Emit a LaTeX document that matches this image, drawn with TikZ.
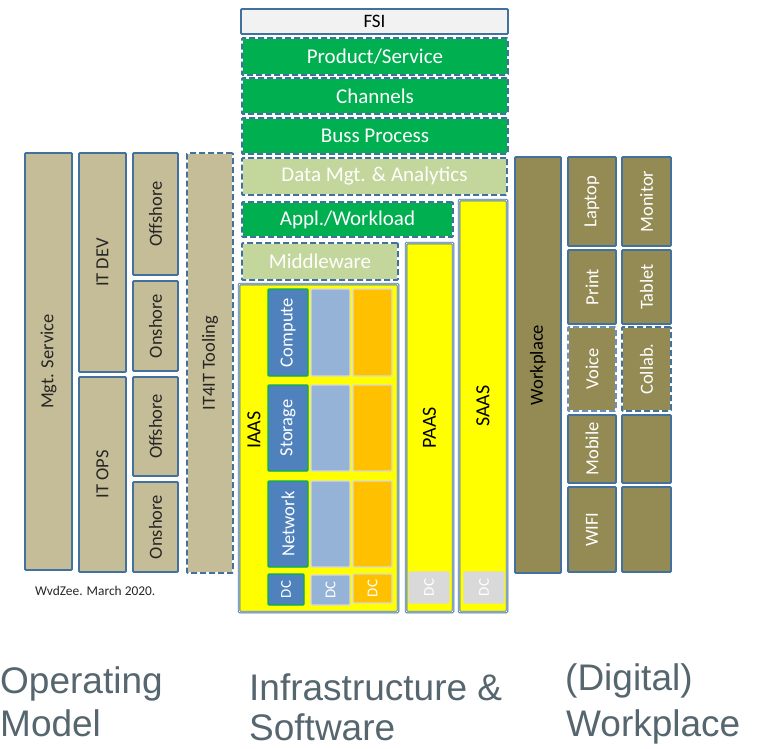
\documentclass[tikz,border=0pt]{standalone}
\usepackage{fontspec}
\setmainfont{Carlito}
\newfontfamily\arialf{Liberation Sans}
\usepackage{graphicx}
\definecolor{bord}{HTML}{41719C}
\definecolor{lbord}{HTML}{6A8FC0}
\definecolor{fsifill}{HTML}{F2F2F2}
\definecolor{grn}{HTML}{00B050}
\definecolor{lgrn}{HTML}{C3D69B}
\definecolor{tan}{HTML}{C4BD97}
\definecolor{olive}{HTML}{948A54}
\definecolor{yel}{HTML}{FFFF00}
\definecolor{cblue}{HTML}{4F81BD}
\definecolor{lblue}{HTML}{95B3D7}
\definecolor{orng}{HTML}{FFC000}
\definecolor{dcgray}{HTML}{D9D9D9}
\definecolor{dtext}{HTML}{262626}
\definecolor{slate}{HTML}{56666F}
\newcommand\mybox[7]{\node[#1, minimum width={(#5-#3)*1pt}, minimum height={(#6-#4)*1pt}] (#2) at (#3,#4) {#7};}
\newcommand\rt[1]{\rotatebox{90}{#1}}
\begin{document}
\begin{tikzpicture}[x=1pt,y=-1pt,
  bx/.style={anchor=north west, inner sep=0pt, outer sep=0pt, rounded corners=1pt, draw=bord, line width=1.8pt},
  dbx/.style={anchor=north west, inner sep=0pt, outer sep=0pt, rounded corners=1pt, draw=white, line width=1.8pt,
     postaction={draw=#1, dash pattern=on 6pt off 3pt}},
  dbx/.default=bord,
  big/.style={font=\fontsize{21}{25}\selectfont, text=white},
  lab/.style={font=\fontsize{18.5}{22}\selectfont},
  ybx/.style={bx, fill=yel, line width=0.8pt, double=white, double distance=0.9pt},
  cell/.style={anchor=north west, inner sep=0pt, outer sep=0pt, draw=#1, line width=1.3pt, rounded corners=1pt},
  dcl/.style={font=\fontsize{15}{18}\selectfont, text=white},
  bottom/.style={anchor=base west, inner sep=0pt, text=slate, font=\arialf\fontsize{37}{44}\selectfont}
]
\useasboundingbox (0,0) rectangle (768,749);
% top stack
\mybox{bx, fill=fsifill, font=\fontsize{19}{22}\selectfont, text=black}{fsi}{241}{9}{508}{34}{FSI}
\mybox{dbx, fill=grn, big}{prod}{242}{38}{508}{75}{Product/Service}
\mybox{dbx, fill=grn, big}{chan}{242}{78}{508}{114}{Channels}
\mybox{dbx, fill=grn, big}{buss}{242}{118}{508}{154}{Buss Process}
\mybox{dbx, fill=lgrn, big}{data}{242}{158}{507}{195}{Data Mgt. \& Analytics}
\mybox{dbx, fill=grn, big}{appl}{242}{202}{453}{237}{Appl./Workload}
\mybox{dbx, fill=lgrn, big}{midd}{242}{243}{398}{280}{Middleware}
% IAAS / PAAS / SAAS
\mybox{ybx}{iaas}{239}{284}{398}{612}{}
\node[lab, font=\fontsize{20}{24}\selectfont] (iaaslbl) at (254,430) {\rt{IAAS}};
\mybox{ybx, font=\fontsize{20}{24}\selectfont}{paas}{406}{243}{453}{612}{\rt{PAAS}}
\mybox{ybx, font=\fontsize{20}{24}\selectfont}{saas}{459}{200}{507}{612}{\rt{SAAS}}
% IAAS columns
\mybox{cell=grn, fill=cblue, lab, text=white}{comp}{268}{289}{308}{376}{\rt{Compute}}
\mybox{cell=dcgray, fill=lblue}{comp2}{311}{289}{350}{376}{}
\mybox{cell=dcgray, fill=orng}{comp3}{353}{289}{392}{376}{}
\mybox{cell=grn, fill=cblue, lab, text=white}{stor}{268}{385}{308}{471}{\rt{Storage}}
\mybox{cell=dcgray, fill=lblue}{stor2}{311}{385}{350}{471}{}
\mybox{cell=dcgray, fill=orng}{stor3}{353}{385}{392}{471}{}
\mybox{cell=grn, fill=cblue, lab, text=white}{netw}{268}{481}{308}{567}{\rt{Network}}
\mybox{cell=dcgray, fill=lblue}{netw2}{311}{481}{350}{567}{}
\mybox{cell=dcgray, fill=orng}{netw3}{353}{481}{392}{567}{}
\mybox{cell=grn, fill=cblue, dcl}{dc1}{268}{574}{304}{605}{\rt{DC}}
\mybox{cell=dcgray, fill=lblue, dcl}{dc2}{311}{575}{350}{605}{\rt{DC}}
\mybox{cell=dcgray, fill=orng, dcl}{dc3}{353}{574}{392}{603}{\rt{DC}}
\mybox{cell=dcgray, fill=dcgray, dcl}{dc4}{409}{572}{449}{603}{\rt{DC}}
\mybox{cell=dcgray, fill=dcgray, dcl}{dc5}{464}{572}{504}{603}{\rt{DC}}
% left: operating model
\mybox{bx, fill=tan, lab, text=dtext}{mgt}{25}{153}{72}{570}{\rt{Mgt. Service}}
\mybox{bx, fill=tan, lab, text=dtext}{itdev}{79}{153}{126}{372}{\rt{IT DEV}}
\mybox{bx, fill=tan, lab, text=dtext}{itops}{79}{377}{126}{572}{\rt{IT OPS}}
\mybox{bx, fill=tan, lab, text=dtext}{off1}{133}{153}{178}{275}{\rt{Offshore}}
\mybox{bx, fill=tan, lab, text=dtext}{on1}{133}{281}{178}{371}{\rt{Onshore}}
\mybox{bx, fill=tan, lab, text=dtext}{off2}{133}{377}{178}{476}{\rt{Offshore}}
\mybox{bx, fill=tan, lab, text=dtext}{on2}{133}{482}{178}{572}{\rt{Onshore}}
\mybox{dbx, fill=tan, lab, text=dtext}{it4it}{187}{153}{233}{573}{\rt{IT4IT Tooling}}
\node[anchor=west, inner sep=0pt, font=\fontsize{13.4}{16}\selectfont, text=dtext] (sig) at (35,591) {WvdZee. March 2020.};
% right: workplace
\mybox{bx, fill=olive, lab, text=black}{work}{515}{157}{561}{573}{\rt{Workplace}}
\mybox{bx, fill=olive, lab, text=white}{lapt}{568}{157}{616}{246}{\rt{Laptop}}
\mybox{bx, fill=olive, lab, text=white}{print}{568}{250}{616}{324}{\rt{Print}}
\mybox{dbx=lbord, fill=olive, lab, text=white}{voice}{568}{327}{616}{411}{\rt{Voice}}
\mybox{bx, fill=olive, lab, text=white}{mobile}{568}{415}{616}{483}{\rt{Mobile}}
\mybox{bx, fill=olive, lab, text=white}{wifi}{568}{487}{616}{572}{\rt{WIFI}}
\mybox{bx, fill=olive, lab, text=white}{monit}{622}{157}{671}{246}{\rt{Monitor}}
\mybox{bx, fill=olive, lab, text=white}{tabl}{622}{250}{671}{324}{\rt{Tablet}}
\mybox{dbx, fill=olive, lab, text=white}{collab}{622}{327}{671}{411}{\rt{Collab.}}
\mybox{bx, fill=olive}{blank1}{622}{415}{671}{483}{}
\mybox{bx, fill=olive}{blank2}{622}{487}{671}{572}{}
% bottom captions
\node[bottom] (op1) at (0,693) {Operating};
\node[bottom] (op2) at (0,736) {Model};
\node[bottom] (is1) at (249,700) {Infrastructure \&};
\node[bottom] (is2) at (249,740) {Software};
\node[bottom] (dw1) at (565,690) {(Digital)};
\node[bottom] (dw2) at (566,736) {Workplace};
\end{tikzpicture}
\end{document}
